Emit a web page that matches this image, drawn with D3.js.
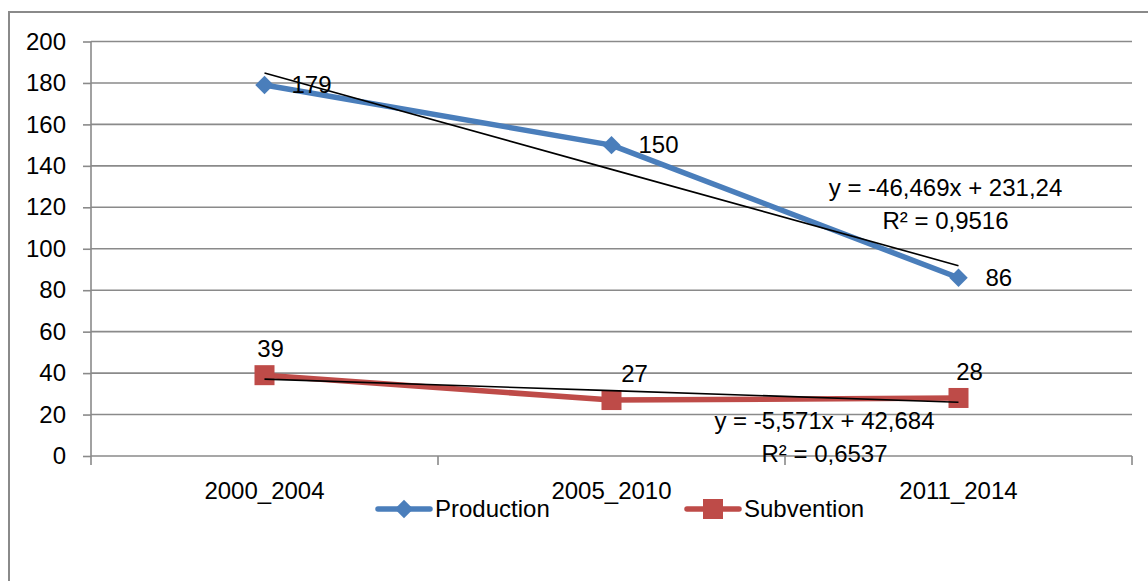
<!DOCTYPE html>
<html>
<head>
<meta charset="utf-8">
<script src="https://cdn.jsdelivr.net/npm/d3@7/dist/d3.min.js"></script>
<style>
  html, body { margin: 0; padding: 0; background: #fff; }
  svg { display: block; font-family: "Liberation Sans", Arial, sans-serif; }
</style>
</head>
<body>
<svg id="chart" width="1148" height="581"></svg>
<script>
const categories = ["2000_2004", "2005_2010", "2011_2014"];
const production = [179, 150, 86];
const subvention = [39, 27, 28];
const yTicks = [0, 20, 40, 60, 80, 100, 120, 140, 160, 180, 200];
const prodTrend = { slope: -46.469, intercept: 231.24, label: "y = -46,469x + 231,24", r2: "R² = 0,9516" };
const subvTrend = { slope: -5.571, intercept: 42.684, label: "y = -5,571x + 42,684", r2: "R² = 0,6537" };
const seriesNames = ["Production", "Subvention"];

const svg = d3.select("#chart");
const W = 1148, H = 581;
const plot = { left: 91, right: 1132, top: 41.5, bottom: 456 };
const blue = "#4A7EBB", red = "#BE4B48", grid = "#8a8a8a";
const fs = 24;

// outer border
svg.append("rect").attr("x", 9).attr("y", 12).attr("width", W + 10).attr("height", H + 10)
  .attr("fill", "none").attr("stroke", grid).attr("stroke-width", 2);

const x = d3.scaleBand().domain(categories).range([plot.left, plot.right]).padding(0);
const xc = c => x(c) + x.bandwidth() / 2;
const y = d3.scaleLinear().domain([0, 200]).range([plot.bottom, plot.top]);

// gridlines
svg.append("g").selectAll("line").data(yTicks.filter(d => d > 0)).join("line")
  .attr("x1", plot.left).attr("x2", plot.right)
  .attr("y1", d => y(d)).attr("y2", d => y(d))
  .attr("stroke", grid).attr("stroke-width", 1.6);

// y axis
const yAxis = d3.axisLeft(y).tickValues(yTicks).tickSize(8).tickPadding(17).tickFormat(d3.format("d"));
const gy = svg.append("g").attr("transform", `translate(${plot.left},0)`).call(yAxis);
gy.select(".domain").attr("stroke", grid).attr("stroke-width", 1.6).attr("d", `M0,${plot.bottom}V${plot.top}`);
gy.selectAll(".tick line").attr("stroke", grid).attr("stroke-width", 1.6);
gy.selectAll(".tick text").attr("font-size", fs).attr("fill", "#000")
  .attr("font-family", "Liberation Sans, Arial, sans-serif");

// x axis
const gx = svg.append("g").attr("transform", `translate(0,${plot.bottom})`);
gx.append("line").attr("x1", plot.left).attr("x2", plot.right).attr("y1", 0).attr("y2", 0)
  .attr("stroke", grid).attr("stroke-width", 1.6);
const bounds = categories.map(c => x(c)).concat([plot.right]);
gx.selectAll("line.tk").data(bounds).join("line").attr("class", "tk")
  .attr("x1", d => d).attr("x2", d => d).attr("y1", 0).attr("y2", 9)
  .attr("stroke", grid).attr("stroke-width", 1.6);
gx.selectAll("text").data(categories).join("text")
  .attr("x", d => xc(d)).attr("y", 43).attr("text-anchor", "middle")
  .attr("font-size", fs).attr("fill", "#000").text(d => d);

// series lines
const line = d3.line().x((d, i) => xc(categories[i])).y(d => y(d));
svg.append("path").datum(production).attr("d", line).attr("fill", "none")
  .attr("stroke", blue).attr("stroke-width", 5.5).attr("stroke-linejoin", "round");
svg.append("path").datum(subvention).attr("d", line).attr("fill", "none")
  .attr("stroke", red).attr("stroke-width", 5.5).attr("stroke-linejoin", "round");

// markers
const diamond = d3.symbol().type(d3.symbolSquare).size(170);
svg.append("g").selectAll("path").data(production).join("path")
  .attr("d", diamond())
  .attr("transform", (d, i) => `translate(${xc(categories[i])},${y(d)}) rotate(45)`)
  .attr("fill", blue);
svg.append("g").selectAll("rect").data(subvention).join("rect")
  .attr("x", (d, i) => xc(categories[i]) - 10).attr("y", d => y(d) - 10)
  .attr("width", 20).attr("height", 20).attr("fill", red);

// trendlines
function trendPts(t) {
  return categories.map((c, i) => [xc(c), y(t.slope * (i + 1) + t.intercept)]);
}
svg.append("path").attr("d", d3.line()(trendPts(prodTrend))).attr("fill", "none")
  .attr("stroke", "#000").attr("stroke-width", 1.6);
svg.append("path").attr("d", d3.line()(trendPts(subvTrend))).attr("fill", "none")
  .attr("stroke", "#000").attr("stroke-width", 1.6);

// data labels
svg.append("g").selectAll("text").data(production).join("text")
  .attr("x", (d, i) => xc(categories[i]) + 27).attr("y", d => y(d) + 8)
  .attr("font-size", fs).attr("fill", "#000").text(d => d);
const subOff = [6, 23, 11];
svg.append("g").selectAll("text").data(subvention).join("text")
  .attr("x", (d, i) => xc(categories[i]) + subOff[i]).attr("y", d => y(d) - 18)
  .attr("text-anchor", "middle")
  .attr("font-size", fs).attr("fill", "#000").text(d => d);

// trend equations
function eq(t, cx, by) {
  svg.append("text").attr("x", cx).attr("y", by).attr("text-anchor", "middle")
    .attr("font-size", fs).attr("fill", "#000").text(t.label);
  svg.append("text").attr("x", cx).attr("y", by + 33).attr("text-anchor", "middle")
    .attr("font-size", fs).attr("fill", "#000").text(t.r2);
}
eq(prodTrend, xc(categories[2]) - 13, y(prodTrend.slope * 3 + prodTrend.intercept) - 70);
eq(subvTrend, xc(categories[2]) - 134, y(subvTrend.slope * 3 + subvTrend.intercept) + 27);

// legend
const lg = svg.append("g");
const items = [
  { name: seriesNames[0], color: blue, x0: 378, shape: "diamond" },
  { name: seriesNames[1], color: red, x0: 687, shape: "square" }
];
const ly = 509;
items.forEach(it => {
  lg.append("line").attr("x1", it.x0).attr("x2", it.x0 + 52).attr("y1", ly).attr("y2", ly)
    .attr("stroke", it.color).attr("stroke-width", 5.5).attr("stroke-linecap", "round");
  if (it.shape === "diamond") {
    lg.append("path").attr("d", diamond()).attr("transform", `translate(${it.x0 + 26},${ly}) rotate(45)`)
      .attr("fill", it.color);
  } else {
    lg.append("rect").attr("x", it.x0 + 16).attr("y", ly - 10).attr("width", 20).attr("height", 20)
      .attr("fill", it.color);
  }
  lg.append("text").attr("x", it.x0 + 57).attr("y", ly + 8).attr("font-size", fs)
    .attr("fill", "#000").text(it.name);
});
</script>
</body>
</html>
